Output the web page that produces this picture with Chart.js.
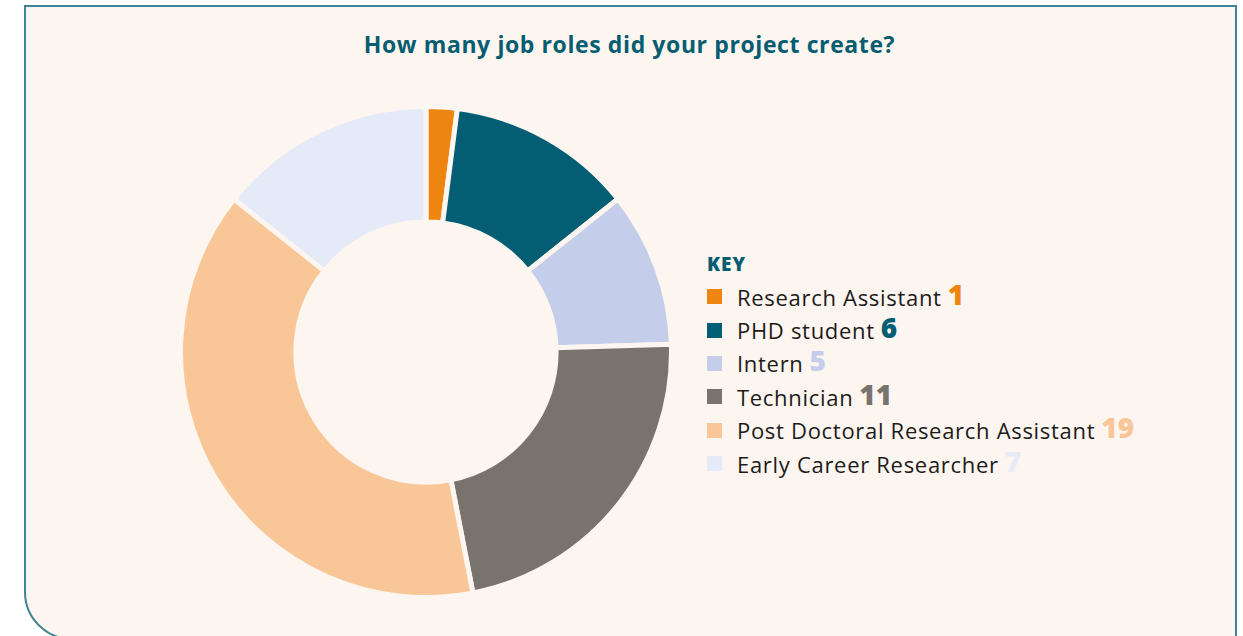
<!DOCTYPE html>
<html>
<head>
<meta charset="utf-8">
<script src="https://cdn.jsdelivr.net/npm/chart.js"></script>
<style>
  html, body { margin: 0; padding: 0; background: #ffffff; overflow: hidden; }
  body { width: 1243px; height: 636px; position: relative; font-family: "Open Sans", "Lato", sans-serif; }
  #panel {
    position: absolute; left: 24px; top: 5px; width: 1209px; height: 631px;
    background: #fdf5ef; border: 2px solid #3f8494; border-radius: 0 0 0 48px;
  }
  #title {
    position: absolute; left: 0; top: 28px; width: 1259px; text-align: center;
    font-size: 23px; font-weight: 700; color: #065d72; letter-spacing: 0.6px;
  }
  #chartBox { position: absolute; left: 178px; top: 104px; width: 496px; height: 496px; }
  #legend { position: absolute; left: 707px; top: 251px; }
  #legend .key { font-size: 19px; font-weight: 800; color: #065d72; margin-bottom: 3px; letter-spacing: 1px; }
  #legend .row { height: 33.4px; display: flex; align-items: center; white-space: nowrap; }
  #legend .sw { width: 15px; height: 15px; margin-right: 15px; }
  #legend .lbl { font-size: 22px; color: #1c1b1a; letter-spacing: 0.7px; }
  #legend .num { font-size: 28px; font-weight: 800; margin-left: 6px; position: relative; top: -3px; }
</style>
</head>
<body>
<div id="panel"></div>
<div id="title">How many job roles did your project create?</div>
<div id="chartBox"><canvas id="roles" width="496" height="496"></canvas></div>
<div id="legend"></div>
<script>
const roles = ['Research Assistant', 'PHD student', 'Intern', 'Technician', 'Post Doctoral Research Assistant', 'Early Career Researcher'];
const counts = [1, 6, 5, 11, 19, 7];
const colours = ['#ee8510', '#035e73', '#c4cde9', '#78736d', '#f9c797', '#e4eaf7'];

const legend = document.getElementById('legend');
let html = '<div class="key">KEY</div>';
roles.forEach((r, i) => {
    html += '<div class="row"><span class="sw" style="background:' + colours[i] + '"></span>' +
        '<span class="lbl">' + r + '</span><span class="num" style="color:' + colours[i] + '">' + counts[i] + '</span></div>';
});
legend.innerHTML = html;

new Chart(document.getElementById('roles'), {
    type: 'doughnut',
    data: {
        labels: roles,
        datasets: [{
            data: counts,
            backgroundColor: colours,
            borderColor: '#fdf5ef',
            borderWidth: 5,
            hoverOffset: 0
        }]
    },
    options: {
        responsive: false,
        animation: false,
        cutout: '53%',
        rotation: 0,
        layout: { padding: 0 },
        plugins: {
            legend: { display: false },
            tooltip: { enabled: false }
        }
    }
});
</script>
</body>
</html>
